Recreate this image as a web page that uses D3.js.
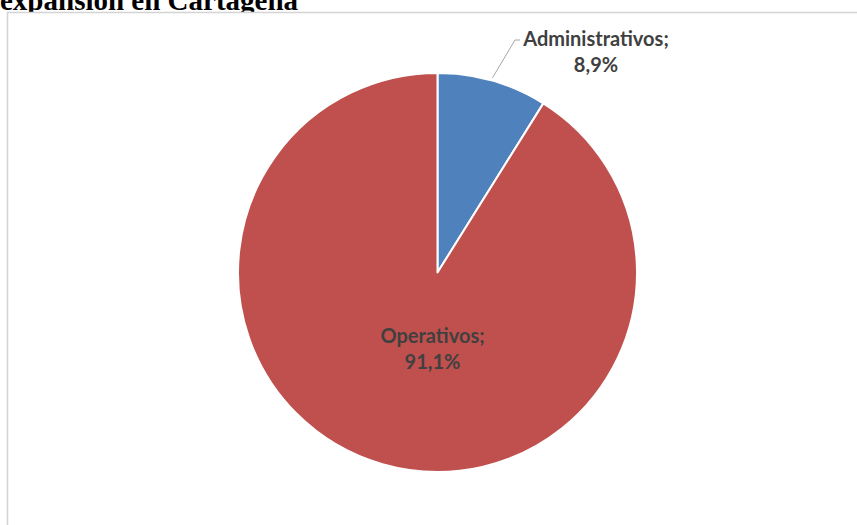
<!DOCTYPE html>
<html>
<head>
<meta charset="utf-8">
<script src="https://cdn.jsdelivr.net/npm/d3@7"></script>
<style>
  html, body { margin: 0; padding: 0; background: #fff; overflow: hidden; }
  svg { display: block; }
</style>
</head>
<body>
<svg id="chart" width="857" height="525"></svg>
<script>
// Staff composition by type of position
const categories = ["Administrativos", "Operativos"];
const shares = [8.9, 91.1];
const valueLabels = ["8,9%", "91,1%"];
const sliceColors = ["#4f81bd", "#c0504d"];
const titleText = "expansión en Cartagena";

const W = 857, H = 525;
const svg = d3.select("#chart");

// Title line (partly above the top edge of the page)
svg.append("text")
  .attr("x", 0)
  .attr("y", 9.5)
  .attr("font-family", "'Liberation Serif', 'Times New Roman', serif")
  .attr("font-weight", "bold")
  .attr("font-size", 29)
  .attr("fill", "#000")
  .text(titleText);

// Chart area frame
svg.append("rect")
  .attr("x", 7.5)
  .attr("y", 12.5)
  .attr("width", W + 10)
  .attr("height", H + 10)
  .attr("fill", "#fff")
  .attr("stroke", "#d4d4d4")
  .attr("stroke-width", 1.5);

const cx = 437.5, cy = 272.5, R = 199.5;

const pie = d3.pie().sort(null).value(d => d.value);
const data = categories.map((c, i) => ({ name: c, value: shares[i], label: valueLabels[i], color: sliceColors[i] }));
const arcs = pie(data);
const arc = d3.arc().innerRadius(0).outerRadius(R);

const g = svg.append("g").attr("transform", `translate(${cx},${cy})`);

g.selectAll("path.slice")
  .data(arcs)
  .join("path")
  .attr("class", "slice")
  .attr("d", arc)
  .attr("fill", d => d.data.color)
  .attr("stroke", "#fff")
  .attr("stroke-width", 2)
  .attr("stroke-linejoin", "round");

const labelFont = "Lato, 'Open Sans', sans-serif";

function drawLabel(x, y, lines) {
  const t = svg.append("text")
    .attr("x", x)
    .attr("y", y)
    .attr("text-anchor", "middle")
    .attr("font-family", labelFont)
    .attr("font-weight", "bold")
    .attr("font-size", 20)
    .attr("fill", "#404040");
  lines.forEach((ln, i) => {
    t.append("tspan").attr("x", x).attr("dy", i === 0 ? 0 : 26).text(ln);
  });
}

// Outside label for the small slice, with leader line
const a0 = arcs[0];
const edge = d3.arc().innerRadius(R).outerRadius(R).centroid(a0);
const leader = d3.line()([
  [cx + edge[0], cy + edge[1] - 3],
  [515, 40],
  [520, 40]
]);
svg.append("path")
  .attr("d", leader)
  .attr("fill", "none")
  .attr("stroke", "#a6a6a6")
  .attr("stroke-width", 1);
drawLabel(596, 46, [a0.data.name + ";", a0.data.label]);

// Inside label for the large slice
const a1 = arcs[1];
const inner = d3.arc().innerRadius(0).outerRadius(R * 0.8).centroid(a1);
drawLabel(cx - 5, cy + inner[1] - 6, [a1.data.name + ";", a1.data.label]);
</script>
</body>
</html>
